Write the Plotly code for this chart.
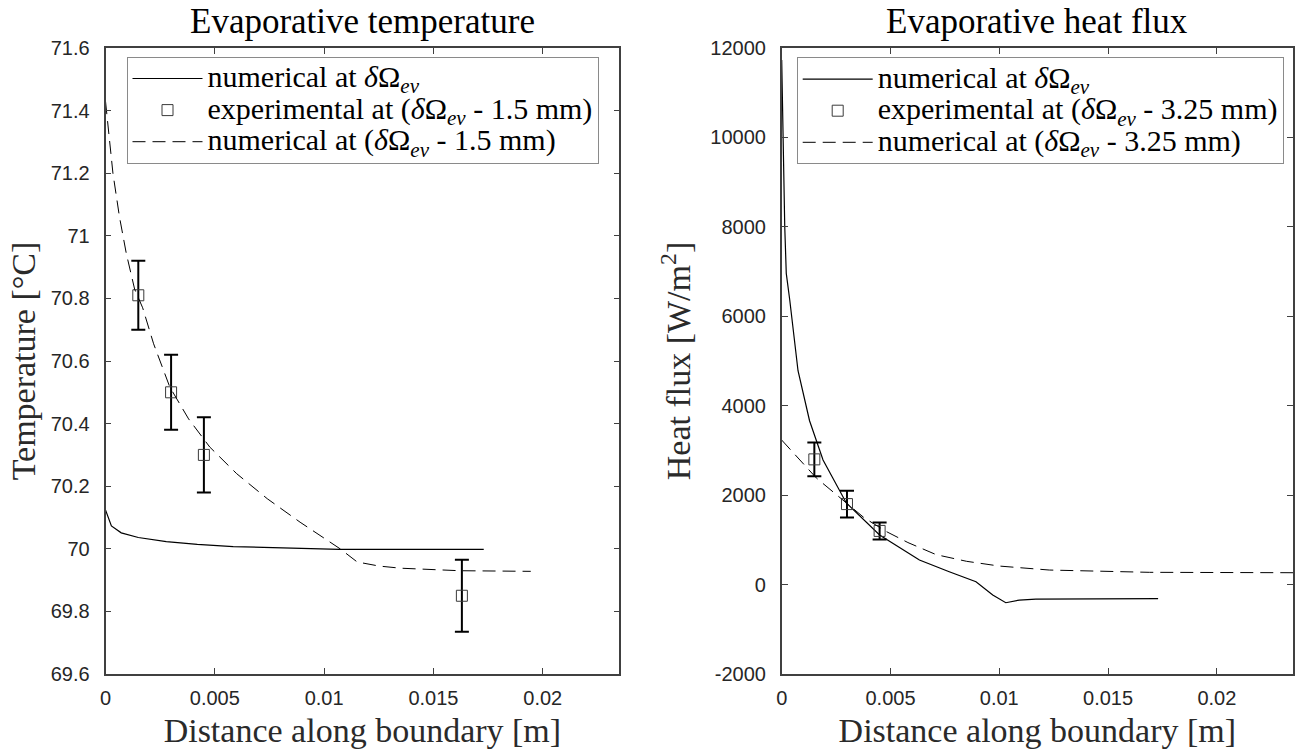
import plotly.graph_objects as go

# ---------------- data ----------------
# Left panel: evaporative temperature
temp_num_x = [0, 0.00027, 0.00072, 0.0015, 0.00278, 0.0042, 0.00584, 0.0085, 0.0107, 0.0173]
temp_num_y = [70.124, 70.073, 70.051, 70.036, 70.023, 70.014, 70.007, 70.002, 69.998, 69.998]

temp_dash_x = [0, 0.00034, 0.00064, 0.00095, 0.00133, 0.0017, 0.0022, 0.00294, 0.0038, 0.00477,
               0.006, 0.0074, 0.0089, 0.01073, 0.01151, 0.0125, 0.0135, 0.0162, 0.01945]
temp_dash_y = [71.43, 71.20, 71.06, 70.944, 70.83, 70.77, 70.655, 70.517, 70.415, 70.325,
               70.24, 70.16, 70.085, 70.0, 69.958, 69.945, 69.938, 69.93, 69.928]

temp_exp_x = [0.0015, 0.003, 0.0045, 0.0163]
temp_exp_y = [70.81, 70.50, 70.30, 69.85]
temp_exp_err = [0.11, 0.12, 0.12, 0.115]

# Right panel: evaporative heat flux
flux_num_x = [0, 0.00006, 0.00014, 0.00021, 0.00037, 0.00075, 0.00128, 0.0019, 0.00297, 0.0045,
              0.00633, 0.0077, 0.00893, 0.0097, 0.0103, 0.01092, 0.01168, 0.0173]
flux_num_y = [11730, 10016, 8003, 6960, 6364, 4782, 3664, 2785, 1826, 1108,
              549, 287, 63, -235, -406, -347, -324, -316]

flux_dash_x = [0, 0.00159, 0.00297, 0.0038, 0.0048, 0.0058, 0.0071, 0.0085, 0.01, 0.0123, 0.0169, 0.0235]
flux_dash_y = [3232, 2385, 1826, 1490, 1188, 940, 669, 520, 414, 325, 274, 265]

flux_exp_x = [0.0015, 0.003, 0.0045]
flux_exp_y = [2800, 1800, 1200]
flux_exp_err = [380, 300, 190]

# ticks
x_tickvals = [0, 0.005, 0.01, 0.015, 0.02]
x_ticktext = ["0", "0.005", "0.01", "0.015", "0.02"]
temp_tickvals = [69.6, 69.8, 70.0, 70.2, 70.4, 70.6, 70.8, 71.0, 71.2, 71.4, 71.6]
temp_ticktext = ["69.6", "69.8", "70", "70.2", "70.4", "70.6", "70.8", "71", "71.2", "71.4", "71.6"]
flux_tickvals = [-2000, 0, 2000, 4000, 6000, 8000, 10000, 12000]
flux_ticktext = ["-2000", "0", "2000", "4000", "6000", "8000", "10000", "12000"]

# labels
titles = ["Evaporative temperature", "Evaporative heat flux"]
x_label = "Distance along boundary [m]"
y_labels = ["Temperature [°C]", "Heat flux [W/m<sup>2</sup>]"]
dom = "<i>δ</i>Ω<sub><i>ev</i></sub>"
names_left = ["numerical at " + dom, "experimental at (" + dom + " - 1.5 mm)", "numerical at (" + dom + " - 1.5 mm)"]
names_right = ["numerical at " + dom, "experimental at (" + dom + " - 3.25 mm)", "numerical at (" + dom + " - 3.25 mm)"]

W, H = 1299, 749
SERIF = "Liberation Serif, Times New Roman, serif"
SANS = "Liberation Sans, Arial, sans-serif"


def big(s):
    # legend text drawn larger than the legend's row-spacing font
    return '<span style="font-size:30px">' + s + "</span>"


fig = go.Figure()


def add_panel(xa, ya, leg, nx, ny, ex, ey, ee, dx, dy, names):
    fig.add_trace(go.Scatter(x=nx, y=ny, mode="lines", name=big(names[0]),
                             line=dict(color="black", width=1.2),
                             xaxis=xa, yaxis=ya, legend=leg))
    fig.add_trace(go.Scatter(x=ex, y=ey, mode="markers", name=big(names[1]),
                             marker=dict(symbol="square-open", size=11, color="#3a3a3a",
                                         line=dict(width=1, color="#3a3a3a")),
                             error_y=dict(type="data", array=ee, color="black", thickness=2, width=7),
                             xaxis=xa, yaxis=ya, legend=leg))
    fig.add_trace(go.Scatter(x=dx, y=dy, mode="lines", name=big(names[2]),
                             line=dict(color="black", width=1, dash="13px,7px"),
                             xaxis=xa, yaxis=ya, legend=leg))


add_panel("x", "y", "legend", temp_num_x, temp_num_y, temp_exp_x, temp_exp_y, temp_exp_err,
          temp_dash_x, temp_dash_y, names_left)
add_panel("x2", "y2", "legend2", flux_num_x, flux_num_y, flux_exp_x, flux_exp_y, flux_exp_err,
          flux_dash_x, flux_dash_y, names_right)

axis_common = dict(showline=True, linecolor="#404040", linewidth=1.6, mirror="ticks",
                   ticks="inside", ticklen=6, tickcolor="#404040", tickwidth=1,
                   showgrid=False, zeroline=False, automargin=False,
                   tickfont=dict(family=SANS, size=20, color="#262626"))

label_font = dict(family=SERIF, size=34, color="#2a2a2a")
legend_font = dict(family=SERIF, size=22, color="black")

xl = [105.5 / W, 619.3 / W]
xr = [781.7 / W, 1293 / W]
yd = [1 - 674 / H, 1 - 48 / H]

fig.update_layout(
    width=W, height=H,
    margin=dict(l=0, r=0, t=0, b=0),
    paper_bgcolor="white", plot_bgcolor="white",
    xaxis=dict(axis_common, domain=xl, range=[0, 0.0235], anchor="y",
               tickvals=x_tickvals, ticktext=x_ticktext, ticklabelstandoff=5,
               title=dict(text=x_label, font=label_font, standoff=13)),
    yaxis=dict(axis_common, domain=yd, range=[69.6, 71.6], anchor="x",
               tickvals=temp_tickvals, ticktext=temp_ticktext, ticklabelstandoff=10,
               title=dict(text=y_labels[0], font=label_font, standoff=5)),
    xaxis2=dict(axis_common, domain=xr, range=[0, 0.0235], anchor="y2",
                tickvals=x_tickvals, ticktext=x_ticktext, ticklabelstandoff=5,
                title=dict(text=x_label, font=label_font, standoff=13)),
    yaxis2=dict(axis_common, domain=yd, range=[-2000, 12000], anchor="x2",
                tickvals=flux_tickvals, ticktext=flux_ticktext, ticklabelstandoff=10,
                title=dict(text=y_labels[1], font=label_font, standoff=9)),
    legend=dict(x=126.5 / W, y=1 - 56.7 / H, xanchor="left", yanchor="top",
                bgcolor="white", bordercolor="#8a8a8a", borderwidth=1, itemwidth=70,
                font=legend_font),
    legend2=dict(x=796.7 / W, y=1 - 57.3 / H, xanchor="left", yanchor="top",
                 bgcolor="white", bordercolor="#8a8a8a", borderwidth=1, itemwidth=70,
                 font=legend_font),
)

for i, t in enumerate(titles):
    d = xl if i == 0 else xr
    fig.add_annotation(text=t, xref="paper", yref="paper", x=(d[0] + d[1]) / 2, y=1 - 21 / H,
                       xanchor="center", yanchor="middle", showarrow=False,
                       font=dict(family=SERIF, size=35, color="black"))

fig.write_html("out.html", config={"displayModeBar": False},
               post_script="document.body.style.margin='0px';document.body.style.overflow='hidden';")
